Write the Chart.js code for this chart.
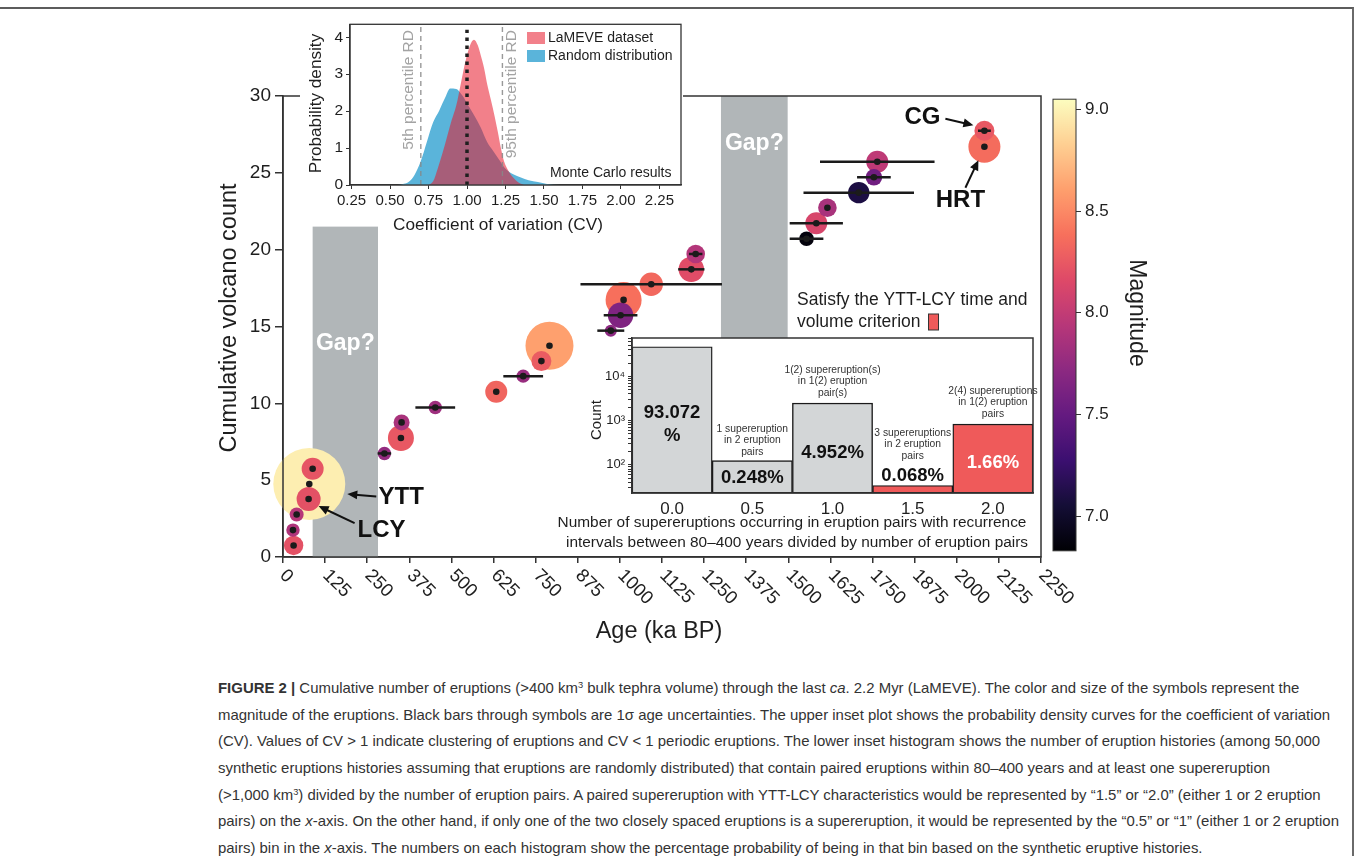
<!DOCTYPE html>
<html>
<head>
<meta charset="utf-8">
<title>Figure 2</title>
<script src="https://cdn.jsdelivr.net/npm/chart.js@4.4.1/dist/chart.umd.min.js"></script>
<style>
  body { margin: 0; background: #fff; }
  #page { position: relative; width: 1355px; height: 856px; overflow: hidden; font-family: "Liberation Sans", Arial, sans-serif; }
  canvas { position: absolute; }
  #frame { position: absolute; left: -4px; top: 7px; width: 1356px; height: 900px; border-top: 2px solid #5c5c5c; border-right: 2px solid #6a6a6a; }
  .cap { position: absolute; left: 218px; height: 20px; line-height: 20px; font-size: 16px; color: #333; white-space: nowrap; }
  .cap sup { font-size: 0.62em; vertical-align: 0; position: relative; top: -0.55em; }
</style>
</head>
<body>
<div id="page">
  <div id="frame"></div>
  <canvas id="main" width="1355" height="660" style="left:0;top:0"></canvas>
  <canvas id="cbar" width="120" height="480" style="left:1045px;top:85px"></canvas>
  <canvas id="inset" width="383" height="226" style="left:300px;top:12px"></canvas>
  <canvas id="hist" width="490" height="268" style="left:550px;top:288px"></canvas>

  <div class="cap" style="top:678px"><b>FIGURE 2 |</b> Cumulative number of eruptions (&gt;400 km<sup>3</sup> bulk tephra volume) through the last <i>ca</i>. 2.2 Myr (LaMEVE). The color and size of the symbols represent the</div>
  <div class="cap" id="capProbe" style="top:704.7px">magnitude of the eruptions. Black bars through symbols are 1σ age uncertainties. The upper inset plot shows the probability density curves for the coefficient of variation</div>
  <div class="cap" style="top:731.3px">(CV). Values of CV &gt; 1 indicate clustering of eruptions and CV &lt; 1 periodic eruptions. The lower inset histogram shows the number of eruption histories (among 50,000</div>
  <div class="cap" style="top:758px">synthetic eruptions histories assuming that eruptions are randomly distributed) that contain paired eruptions within 80–400 years and at least one supereruption</div>
  <div class="cap" style="top:784.7px">(&gt;1,000 km<sup>3</sup>) divided by the number of eruption pairs. A paired supereruption with YTT-LCY characteristics would be represented by “1.5” or “2.0” (either 1 or 2 eruption</div>
  <div class="cap" style="top:811.3px">pairs) on the <i>x</i>-axis. On the other hand, if only one of the two closely spaced eruptions is a supereruption, it would be represented by the “0.5” or “1” (either 1 or 2 eruption</div>
  <div class="cap" style="top:838px">pairs) bin in the <i>x</i>-axis. The numbers on each histogram show the percentage probability of being in that bin based on the synthetic eruptive histories.</div>
</div>

<script>
const FONT = '"Liberation Sans", Arial, sans-serif';
Chart.defaults.font.family = FONT;
Chart.defaults.color = '#1e1e1e';

// ---- main plot: cumulative eruptions vs age ----
const ageKa        = [31.5, 29.6, 40.5, 76, 78, 88, 301, 350, 352, 452, 633, 713, 767, 791, 973, 1002, 1011, 1093, 1212, 1225, 1554, 1583, 1616, 1709, 1754, 1764, 2082, 2082];
const volcanoCount = [0.75, 1.75, 2.77, 3.77, 4.75, 5.74, 6.74, 7.74, 8.76, 9.73, 10.75, 11.77, 12.75, 13.75, 14.73, 15.73, 16.73, 17.75, 18.72, 19.72, 20.71, 21.72, 22.73, 23.71, 24.71, 25.72, 26.7, 27.74];
const ageErr       = [0, 0, 0, 0, 0, 0, 20, 0, 0, 59, 0, 59, 0, 0, 40, 50, 0, 210, 39, 20, 50, 79, 0, 164, 50, 170, 0, 19];
const magnitude    = [8.21, 7.9, 7.94, 8.21, 8.98, 8.23, 7.76, 8.25, 7.87, 7.81, 8.32, 7.78, 8.27, 8.61, 7.72, 7.65, 8.38, 8.34, 8.18, 7.92, 6.87, 8.12, 7.87, 7.1, 7.56, 7.98, 8.36, 8.25];
const symbolSize   = [9.7, 6.7, 7, 12, 36, 11, 6.7, 13, 8, 6.7, 11, 6.7, 10, 24, 6, 12.7, 18, 11.7, 12.7, 9.3, 7.3, 11, 9.3, 10.7, 8.3, 11, 16, 10];

const gapStart = [88, 1300];
const gapEnd   = [282, 1498];
const gapTop   = [21.5, 30];
const gapBase  = [0, 14];

const ageTicks   = [0, 125, 250, 375, 500, 625, 750, 875, 1000, 1125, 1250, 1375, 1500, 1625, 1750, 1875, 2000, 2125, 2250];
const countTicks = [0, 5, 10, 15, 20, 25, 30];
const magTicks   = [7.0, 7.5, 8.0, 8.5, 9.0];
const magMin = 6.83, magMax = 9.05;

// ---- upper inset: CV densities ----
const cvRandom   = [0.55, 0.58, 0.62, 0.66, 0.70, 0.74, 0.78, 0.82, 0.86, 0.89, 0.93, 0.97, 1.01, 1.05, 1.09, 1.13, 1.17, 1.21, 1.25, 1.30, 1.35, 1.40, 1.46, 1.52, 1.60];
const densRandom = [0, 0.02, 0.08, 0.28, 0.65, 1.18, 1.70, 2.02, 2.38, 2.61, 2.60, 2.42, 2.14, 1.86, 1.55, 1.17, 0.92, 0.68, 0.44, 0.29, 0.20, 0.13, 0.08, 0.03, 0];
const cvLameve   = [0.75, 0.78, 0.81, 0.84, 0.87, 0.90, 0.93, 0.96, 0.99, 1.02, 1.045, 1.07, 1.09, 1.11, 1.13, 1.155, 1.18, 1.20, 1.22, 1.24, 1.27, 1.30, 1.33, 1.37];
const densLameve = [0, 0.1, 0.45, 0.85, 1.3, 1.75, 2.15, 2.75, 3.35, 3.78, 3.93, 3.78, 3.5, 3.18, 2.75, 2.31, 1.85, 1.44, 1.0, 0.65, 0.38, 0.2, 0.08, 0];
const cvPercentiles = [0.70, 1.23];
const cvMean = 1.0;
const cvTicks      = [0.25, 0.50, 0.75, 1.00, 1.25, 1.50, 1.75, 2.00, 2.25];
const densityTicks = [0, 0.5, 1, 1.5, 2, 2.5, 3, 3.5, 4];

// ---- lower inset: histogram ----
const histBins       = [0, 0.5, 1.0, 1.5, 2.0];
const histPercent    = [93.072, 0.248, 4.952, 0.068, 1.66];
const meetsCriterion = [false, false, false, true, true];
const totalHistories = 50000;
const histNotes = [
  [],
  ['1 supereruption', 'in 2 eruption', 'pairs'],
  ['1(2) supereruption(s)', 'in 1(2) eruption', 'pair(s)'],
  ['3 supereruptions', 'in 2 eruption', 'pairs'],
  ['2(4) supereruptions', 'in 1(2) eruption', 'pairs']
];
const histMin = 23, histMax = 73600;
const powerLabels = { 100: '10²', 1000: '10³', 10000: '10⁴' };

// magma colormap
const magmaStops = [[0,0,4],[20,14,54],[59,15,112],[100,26,128],[140,41,129],[183,55,121],[222,73,104],[247,112,92],[254,159,109],[254,207,146],[252,253,191]];
function magma(t) {
  t = Math.max(0, Math.min(1, t));
  const s = t * 10, i = Math.min(9, Math.floor(s)), f = s - i;
  const a = magmaStops[i], b = magmaStops[i + 1];
  return `rgb(${Math.round(a[0] + (b[0]-a[0])*f)},${Math.round(a[1] + (b[1]-a[1])*f)},${Math.round(a[2] + (b[2]-a[2])*f)})`;
}
const magColor = m => magma((m - magMin) / (magMax - magMin));

function arrow(ctx, x0, y0, x1, y1) {
  const ang = Math.atan2(y1 - y0, x1 - x0), L = 10, W = 4.5;
  const c = Math.cos(ang), s = Math.sin(ang);
  ctx.beginPath(); ctx.moveTo(x0, y0); ctx.lineTo(x1 - L * 0.8 * c, y1 - L * 0.8 * s); ctx.stroke();
  ctx.beginPath(); ctx.moveTo(x1, y1);
  ctx.lineTo(x1 - L * c + W * s, y1 - L * s - W * c);
  ctx.lineTo(x1 - L * c - W * s, y1 - L * s + W * c);
  ctx.closePath(); ctx.fill();
}

// labels with arrows, offsets in px from the point
const callouts = [
  { text: 'YTT', at: 4,  label: [92, 13],   tail: [67, 12.5], head: [38, 10] },
  { text: 'LCY', at: 3,  label: [73, 31],   tail: [46, 24],   head: [10, 7] },
  { text: 'CG',  at: 27, label: [-62, -13], tail: [-39, -12], head: [-11, -5.5] },
  { text: 'HRT', at: 26, label: [-24, 54],  tail: [-19, 41],  head: [-6, 13.5] }
];
const gapLabelAt = [13.9, 26.9];

const mainDecor = {
  id: 'mainDecor',
  beforeDatasetsDraw(chart) {
    const { ctx, scales: { x, y } } = chart;
    ctx.save();
    gapStart.forEach((g, i) => {
      const x0 = x.getPixelForValue(g), x1 = x.getPixelForValue(gapEnd[i]);
      const y0 = y.getPixelForValue(gapTop[i]), y1 = y.getPixelForValue(gapBase[i]);
      ctx.fillStyle = '#b1b6b8';
      ctx.fillRect(x0, y0, x1 - x0, y1 - y0);
      ctx.fillStyle = '#fff';
      ctx.font = `bold 23px ${FONT}`;
      ctx.textAlign = 'center'; ctx.textBaseline = 'middle';
      ctx.fillText('Gap?', (x0 + x1) / 2, y.getPixelForValue(gapLabelAt[i]));
    });
    ctx.restore();
  },
  afterDatasetDraw(chart, args) {
    if (args.index !== 1) return;
    const { ctx, scales: { x, y } } = chart;
    ctx.save();
    ctx.strokeStyle = '#1b1b1b'; ctx.lineWidth = 2.5;
    ageErr.forEach((e, i) => {
      if (!e) return;
      const py = y.getPixelForValue(volcanoCount[i]);
      ctx.beginPath();
      ctx.moveTo(x.getPixelForValue(ageKa[i] - e), py);
      ctx.lineTo(x.getPixelForValue(ageKa[i] + e), py);
      ctx.stroke();
    });
    ctx.restore();
  },
  afterDraw(chart) {
    const { ctx, chartArea: a, scales: { x, y } } = chart;
    ctx.save();
    ctx.strokeStyle = '#333'; ctx.lineWidth = 1.5;
    ctx.strokeRect(a.left, a.top, a.right - a.left, a.bottom - a.top);

    // rotated age labels
    ctx.fillStyle = '#1e1e1e';
    ctx.font = `18.5px ${FONT}`;
    ctx.textAlign = 'center'; ctx.textBaseline = 'middle';
    ageTicks.forEach(v => {
      const label = String(v);
      const d = (ctx.measureText(label).width + 13) * Math.SQRT1_2 / 2;
      const shift = label.length === 1 ? -5 : -4;
      ctx.save();
      ctx.translate(x.getPixelForValue(v) + shift + d, a.bottom + 11 + d);
      ctx.rotate(Math.PI / 4);
      ctx.fillText(label, 0, 0);
      ctx.restore();
    });

    // axis titles
    ctx.font = `23.5px ${FONT}`;
    ctx.fillText('Age (ka BP)', 659, a.bottom + 75);
    ctx.save();
    ctx.translate(a.left - 53, 318);
    ctx.rotate(-Math.PI / 2);
    ctx.fillText('Cumulative volcano count', 0, 0);
    ctx.restore();

    // callouts
    ctx.fillStyle = '#111'; ctx.strokeStyle = '#111'; ctx.lineWidth = 2;
    ctx.font = `bold 24px ${FONT}`;
    callouts.forEach(c => {
      const px = x.getPixelForValue(ageKa[c.at]), py = y.getPixelForValue(volcanoCount[c.at]);
      ctx.fillText(c.text, px + c.label[0], py + c.label[1]);
      arrow(ctx, px + c.tail[0], py + c.tail[1], px + c.head[0], py + c.head[1]);
    });
    ctx.restore();
  }
};

const sizeOrder = ageKa.map((_, i) => i).sort((a, b) => symbolSize[b] - symbolSize[a]);

new Chart(document.getElementById('main'), {
  type: 'bubble',
  data: {
    datasets: [
      {
        type: 'scatter',
        data: ageKa.map((v, i) => ({ x: v, y: volcanoCount[i] })),
        pointRadius: 3.3,
        backgroundColor: '#1b1b1b',
        borderWidth: 0,
        order: 0
      },
      {
        type: 'bubble',
        data: sizeOrder.map(i => ({ x: ageKa[i], y: volcanoCount[i], r: symbolSize[i] })),
        backgroundColor: sizeOrder.map(i => magColor(magnitude[i])),
        borderWidth: 0,
        clip: false,
        order: 1
      }
    ]
  },
  options: {
    responsive: false,
    animation: false,
    events: [],
    layout: { padding: { left: 203, right: 314, top: 96, bottom: 3 } },
    plugins: { legend: { display: false }, tooltip: { enabled: false } },
    scales: {
      x: {
        type: 'linear', min: 0, max: 2250,
        afterBuildTicks: s => { s.ticks = ageTicks.map(v => ({ value: v })); },
        ticks: { display: false },
        grid: { drawOnChartArea: false, tickLength: 6, color: '#333', lineWidth: 1.5 },
        border: { color: '#333', width: 1.5 },
        afterFit: s => { s.height = 100; }
      },
      y: {
        min: 0, max: 30,
        afterBuildTicks: s => { s.ticks = countTicks.map(v => ({ value: v })); },
        ticks: { font: { size: 19 }, color: '#1e1e1e', padding: 4 },
        grid: { drawOnChartArea: false, tickLength: 8, color: '#333', lineWidth: 1.5 },
        border: { color: '#333', width: 1.5 },
        afterFit: s => { s.width = 80; }
      }
    }
  },
  plugins: [mainDecor]
});

// ---- colour bar ----
const cbarDecor = {
  id: 'cbarDecor',
  beforeDraw(chart) {
    const { ctx, chartArea: a, scales: { y } } = chart;
    const g = ctx.createLinearGradient(0, y.getPixelForValue(magMin), 0, y.getPixelForValue(magMax));
    for (let k = 0; k <= 20; k++) g.addColorStop(k / 20, magma(k / 20));
    ctx.save();
    ctx.fillStyle = g;
    ctx.fillRect(a.left, a.top, a.right - a.left, a.bottom - a.top);
    ctx.restore();
  },
  afterDraw(chart) {
    const { ctx, chartArea: a } = chart;
    ctx.save();
    ctx.strokeStyle = '#333'; ctx.lineWidth = 1;
    ctx.strokeRect(a.left, a.top, a.right - a.left, a.bottom - a.top);
    ctx.fillStyle = '#1e1e1e';
    ctx.font = `23px ${FONT}`;
    ctx.textAlign = 'center'; ctx.textBaseline = 'middle';
    ctx.translate(91, 228);
    ctx.rotate(Math.PI / 2);
    ctx.fillText('Magnitude', 0, 0);
    ctx.restore();
  }
};

new Chart(document.getElementById('cbar'), {
  type: 'scatter',
  data: { datasets: [] },
  options: {
    responsive: false, animation: false, events: [],
    layout: { padding: { left: 8, right: 0, top: 12, bottom: 8 } },
    plugins: { legend: { display: false }, tooltip: { enabled: false } },
    scales: {
      x: { display: false },
      y: {
        position: 'right', min: magMin, max: magMax,
        afterBuildTicks: s => { s.ticks = magTicks.map(v => ({ value: v })); },
        ticks: { font: { size: 17 }, padding: 4, callback: v => v.toFixed(1) },
        grid: { drawOnChartArea: false, tickLength: 5, color: '#333' },
        border: { display: false },
        afterFit: s => { s.width = 89; }
      }
    }
  },
  plugins: [cbarDecor]
});

// ---- upper inset ----
const lamColor = 'rgba(231,24,42,0.55)';
const rndColor = '#5ab4da';

const insetDecor = {
  id: 'insetDecor',
  beforeDraw(chart) {
    const { ctx } = chart;
    ctx.save();
    ctx.fillStyle = '#fff';
    ctx.fillRect(0, 0, chart.width, 214);
    ctx.restore();
  },
  beforeDatasetDraw(chart, args) {
    if (args.index !== 0) return;
    const { ctx, scales: { x, y } } = chart;
    const px = x.getPixelForValue(cvMean);
    ctx.save();
    ctx.strokeStyle = '#1f1f1f'; ctx.lineWidth = 3.5;
    ctx.setLineDash([3.5, 4.5]);
    ctx.beginPath(); ctx.moveTo(px, y.getPixelForValue(0)); ctx.lineTo(px, y.getPixelForValue(4.2)); ctx.stroke();
    ctx.restore();
  },
  afterDatasetsDraw(chart) {
    const { ctx, chartArea: a, scales: { x } } = chart;
    ctx.save();
    ctx.strokeStyle = 'rgba(135,135,135,0.85)'; ctx.lineWidth = 1.4;
    ctx.setLineDash([5, 4]);
    cvPercentiles.forEach(v => {
      const px = x.getPixelForValue(v);
      ctx.beginPath(); ctx.moveTo(px, a.bottom); ctx.lineTo(px, a.top); ctx.stroke();
    });
    ctx.setLineDash([]);
    ctx.fillStyle = '#a3a3a3';
    ctx.font = `15.5px ${FONT}`;
    ctx.textAlign = 'right'; ctx.textBaseline = 'middle';
    [['5th percentile RD', -12.5], ['95th percentile RD', 9.5]].forEach(([t, dx], i) => {
      ctx.save();
      ctx.translate(x.getPixelForValue(cvPercentiles[i]) + dx, 18);
      ctx.rotate(-Math.PI / 2);
      ctx.fillText(t, 0, 0);
      ctx.restore();
    });

    // legend
    ctx.font = `14px ${FONT}`;
    ctx.textAlign = 'left'; ctx.fillStyle = '#1e1e1e';
    [[lamColor, 'LaMEVE dataset', 20], [rndColor, 'Random distribution', 38]].forEach(([c, t, ty]) => {
      ctx.fillStyle = c; ctx.fillRect(227, ty, 18, 12);
      ctx.fillStyle = '#1e1e1e'; ctx.fillText(t, 248, ty + 6.5);
    });
    ctx.textAlign = 'right';
    ctx.fillText('Monte Carlo results', 371.5, 161);
    ctx.restore();
  },
  afterDraw(chart) {
    const { ctx, chartArea: a } = chart;
    ctx.save();
    ctx.strokeStyle = '#333'; ctx.lineWidth = 1.3;
    ctx.strokeRect(a.left, a.top, a.right - a.left, a.bottom - a.top);
    ctx.fillStyle = '#1e1e1e';
    ctx.font = `17.2px ${FONT}`;
    ctx.textAlign = 'center'; ctx.textBaseline = 'middle';
    ctx.fillText('Coefficient of variation (CV)', 198, 213);
    ctx.translate(16.7, 91.5);
    ctx.rotate(-Math.PI / 2);
    ctx.fillText('Probability density', 0, 0);
    ctx.restore();
  }
};

new Chart(document.getElementById('inset'), {
  type: 'scatter',
  data: {
    datasets: [
      {
        label: 'LaMEVE dataset',
        data: cvLameve.map((v, i) => ({ x: v, y: densLameve[i] })),
        showLine: true, fill: 'origin',
        backgroundColor: lamColor, borderColor: 'rgba(0,0,0,0)', borderWidth: 0,
        pointRadius: 0, cubicInterpolationMode: 'monotone', order: 0
      },
      {
        label: 'Random distribution',
        data: cvRandom.map((v, i) => ({ x: v, y: densRandom[i] })),
        showLine: true, fill: 'origin',
        backgroundColor: rndColor, borderColor: 'rgba(0,0,0,0)', borderWidth: 0,
        pointRadius: 0, cubicInterpolationMode: 'monotone', order: 1
      }
    ]
  },
  options: {
    responsive: false, animation: false, events: [],
    layout: { padding: { left: 0, right: 2, top: 9, bottom: 0 } },
    plugins: { legend: { display: false }, tooltip: { enabled: false } },
    scales: {
      x: {
        type: 'linear', min: 0.24, max: 2.39,
        afterBuildTicks: s => { s.ticks = cvTicks.map(v => ({ value: v })); },
        ticks: { font: { size: 15 }, padding: 3, callback: v => v.toFixed(2) },
        grid: { drawOnChartArea: false, tickLength: 4, color: '#333' },
        border: { color: '#333', width: 1.3 },
        afterFit: s => { s.height = 53; }
      },
      y: {
        min: 0, max: 4.35,
        afterBuildTicks: s => { s.ticks = densityTicks.map(v => ({ value: v })); },
        ticks: { font: { size: 15.5 }, padding: 3, callback: v => Number.isInteger(v) ? v : '' },
        grid: { drawOnChartArea: false, tickLength: 4, color: '#333' },
        border: { color: '#333', width: 1.3 },
        afterFit: s => { s.width = 50; }
      }
    }
  },
  plugins: [insetDecor]
});

// ---- lower inset: histogram ----
const histCounts = histPercent.map(p => p / 100 * totalHistories);
const logTicks = [];
[10, 100, 1000, 10000].forEach(dec => {
  for (let m = 1; m < 10; m++) {
    const v = dec * m;
    if (v >= histMin && v <= histMax) logTicks.push(v);
  }
});
const pctLabelY = [[74.7, 98], [140.3], [115.3], [137.7], [125.3]];
const noteTopY = [0, 91, 32, 94.7, 53];

const histDecor = {
  id: 'histDecor',
  beforeDraw(chart) {
    const { ctx, chartArea: a } = chart;
    ctx.save();
    ctx.fillStyle = '#fff';
    ctx.fillRect(a.left, a.top, a.right - a.left, a.bottom - a.top);
    ctx.restore();
  },
  afterDraw(chart) {
    const { ctx, chartArea: a, scales: { x } } = chart;
    ctx.save();
    ctx.strokeStyle = '#333'; ctx.lineWidth = 1.5;
    ctx.strokeRect(a.left, a.top, a.right - a.left, a.bottom - a.top);
    ctx.textAlign = 'center'; ctx.textBaseline = 'middle';

    histBins.forEach((b, i) => {
      const px = x.getPixelForValue(b);
      const lines = i === 0 ? [String(histPercent[i]), '%'] : [histPercent[i] + '%'];
      ctx.font = `bold 18.5px ${FONT}`;
      ctx.fillStyle = i === 4 ? '#fff' : '#111';
      lines.forEach((t, k) => ctx.fillText(t, px, a.top + pctLabelY[i][k]));
      ctx.font = `10.3px ${FONT}`;
      ctx.fillStyle = '#333';
      histNotes[i].forEach((t, k) => ctx.fillText(t, px, a.top + noteTopY[i] + k * 11.6));
    });

    ctx.fillStyle = '#1e1e1e';
    ctx.font = `15.4px ${FONT}`;
    ctx.fillText('Number of supereruptions occurring in eruption pairs with recurrence', 242, 235);
    ctx.fillText('intervals between 80–400 years divided by number of eruption pairs', 247, 255);

    ctx.textAlign = 'left';
    ctx.font = `17.5px ${FONT}`;
    ctx.fillText('Satisfy the YTT-LCY time and', 247, 12);
    ctx.fillText('volume criterion', 247, 34);
    const sqX = 247 + ctx.measureText('volume criterion').width + 8;
    ctx.fillStyle = '#ef5a5a';
    ctx.fillRect(sqX, 26, 10, 16);
    ctx.strokeStyle = '#333'; ctx.lineWidth = 1;
    ctx.strokeRect(sqX, 26, 10, 16);

    ctx.fillStyle = '#1e1e1e';
    ctx.font = `15px ${FONT}`;
    ctx.textAlign = 'center';
    ctx.translate(46.7, 132);
    ctx.rotate(-Math.PI / 2);
    ctx.fillText('Count', 0, 0);
    ctx.restore();
  }
};

new Chart(document.getElementById('hist'), {
  type: 'bar',
  data: {
    datasets: [{
      data: histBins.map((b, i) => ({ x: b, y: [histMin, histCounts[i]] })),
      backgroundColor: meetsCriterion.map(m => m ? '#ef5a5a' : '#d3d6d7'),
      borderColor: '#1a1a1a', borderWidth: 1.4, borderSkipped: false,
      barPercentage: 1, categoryPercentage: 1
    }]
  },
  options: {
    responsive: false, animation: false, events: [],
    layout: { padding: { left: 0, right: 7, top: 50, bottom: 0 } },
    plugins: { legend: { display: false }, tooltip: { enabled: false } },
    scales: {
      x: {
        type: 'linear', min: -0.25, max: 2.25, offset: false,
        afterBuildTicks: s => { s.ticks = histBins.map(v => ({ value: v })); },
        ticks: { font: { size: 17 }, padding: 6, callback: v => v.toFixed(1) },
        grid: { drawOnChartArea: false, drawTicks: false, offset: false },
        border: { color: '#333', width: 1.5 },
        afterFit: s => { s.height = 63; }
      },
      y: {
        type: 'logarithmic', min: histMin, max: histMax,
        afterBuildTicks: s => { s.ticks = logTicks.map(v => ({ value: v })); },
        ticks: { autoSkip: false, font: { size: 13 }, padding: 3, callback: v => powerLabels[v] || '' },
        grid: { drawOnChartArea: false, tickLength: 4, color: '#333' },
        border: { color: '#333', width: 1.5 },
        afterFit: s => { s.width = 82; }
      }
    }
  },
  plugins: [histDecor]
});

// fit caption size to the printed line length
const probe = document.getElementById('capProbe');
const w = probe.getBoundingClientRect().width;
const fs = 16 * 1113 / w;
document.querySelectorAll('.cap').forEach(el => { el.style.fontSize = fs.toFixed(2) + 'px'; });
</script>
</body>
</html>
